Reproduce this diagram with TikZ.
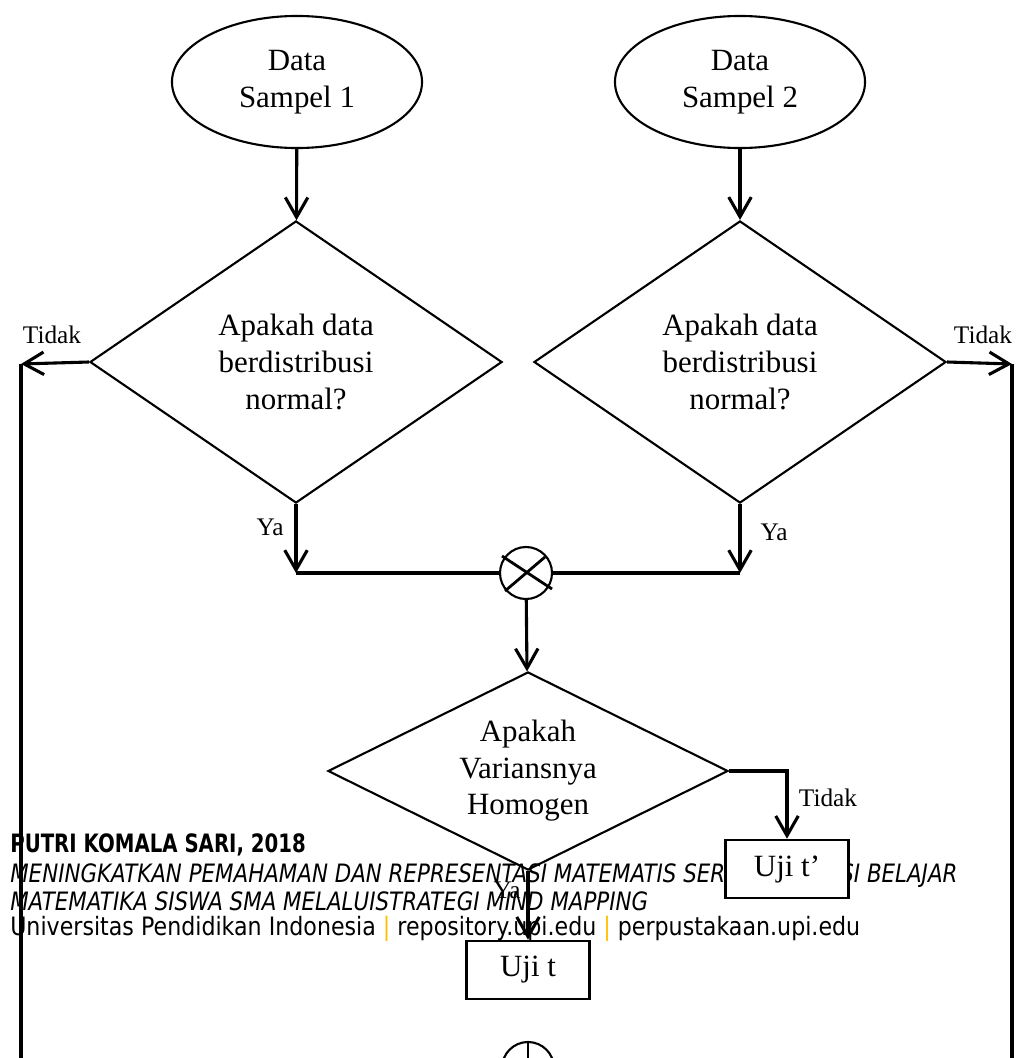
\documentclass[tikz,border=0pt]{standalone}
\usepackage{fontspec}
\setmainfont{Liberation Serif}
\newfontfamily\footfont[FakeStretch=0.875,
  BoldFeatures={FakeStretch=0.78},
  ItalicFeatures={FakeStretch=0.845}]{DejaVu Sans}
\usetikzlibrary{arrows.meta,positioning,shapes.geometric,calc}
\definecolor{upigold}{HTML}{FFC000}

\tikzset{
  shapeline/.style={draw,line width=1.5pt,font=\fontsize{22}{26}\selectfont,align=center},
  terminal/.style={shapeline,ellipse,minimum width=6.25cm,minimum height=3.3cm},
  decision/.style={shapeline,diamond,inner sep=0pt,minimum width=10.3cm,minimum height=7.05cm},
  ujibox/.style={shapeline,rectangle,fill=white,line width=1.8pt,minimum width=3.075cm,minimum height=1.45cm},
  junction/.style={draw,circle,line width=1.5pt,minimum size=1.3cm,inner sep=0pt},
  conn/.style={line width=2.2pt},
  arr/.style={conn,-{Straight Barb[length=14pt,width=16pt]}},
  lbl/.style={font=\fontsize{18}{20}\selectfont,inner sep=0pt},
  foot/.style={font=\footfont\fontsize{18}{21}\selectfont,anchor=base west,inner sep=0pt},
}

\begin{document}
\begin{tikzpicture}[x=0.025cm,y=-0.025cm]
  \useasboundingbox (0,0) rectangle (1018,1058);

  % ---- Footer (lies under the chart) --------------------------
  \node[foot] (footA) at (10,852) {\bfseries PUTRI KOMALA SARI, 2018};
  \node[foot] (footB) at (10,882) {\itshape MENINGKATKAN PEMAHAMAN DAN REPRESENTASI MATEMATIS SERTA MOTIVASI BELAJAR};
  \node[foot] (footC) at (10,910) {\itshape MATEMATIKA SISWA SMA MELALUISTRATEGI MIND MAPPING};
  \node[foot] (footD) at (10,935) {Universitas Pendidikan Indonesia \textcolor{upigold}{|} repository.upi.edu \textcolor{upigold}{|} perpustakaan.upi.edu};

  % ---- Data samples -------------------------------------------
  \node[terminal] (data1) at (297,82) {Data\\Sampel 1};
  \node[terminal] (data2) at (740,82) {Data\\Sampel 2};

  % ---- Normality tests ----------------------------------------
  \node[decision] (norm1) at (296,362) {Apakah data\\berdistribusi\\normal?};
  \node[decision] (norm2) at (740,362) {Apakah data\\berdistribusi\\normal?};
  \draw[arr] (data1) -- (norm1);
  \draw[arr] (data2) -- (norm2);

  % Tidak branches run down both sides
  \coordinate (tidakL) at (21,364);
  \coordinate (tidakR) at (1012,364);
  \coordinate (downL) at (21,1058);
  \coordinate (downR) at (1012,1058);
  \draw[arr] (norm1.west) -- (tidakL);
  \draw[arr] (norm2.east) -- (tidakR);
  \draw[conn] (tidakL) -- (downL);
  \draw[conn] (tidakR) -- (downR);
  \node[lbl] (lblTL) at (52,335) {Tidak};
  \node[lbl] (lblTR) at (983,335) {Tidak};

  % ---- Merge ----------------------------------------------------
  \node[junction] (merge) at (526,573) {};
  \draw[line width=2pt] (merge.center) ++(-24,-17) -- ++(50,33);
  \draw[line width=2pt] (merge.center) ++(-21,18) -- ++(40,-34);
  \coordinate (ya1) at (296,573);
  \coordinate (ya2) at (740,573);
  \draw[arr] (norm1.south) -- (ya1);
  \draw[arr] (norm2.south) -- (ya2);
  \draw[conn] (ya1) -- (merge.west);
  \draw[conn] (ya2) -- (merge.east);
  \node[lbl] (lblY1) at (270,527) {Ya};
  \node[lbl] (lblY2) at (774,532) {Ya};

  % ---- Homogeneity test ----------------------------------------
  \node[decision,shape aspect=2,minimum width=10cm,minimum height=4.95cm]
    (homog) at (528,771) {Apakah\\Variansnya\\Homogen};
  \draw[arr] (merge) -- (homog);

  \node[ujibox] (ujiB) at (787,869) {Uji t’};
  \node[ujibox] (ujiA) at (528,970) {Uji t};
  \draw[arr] (homog.east) -| (ujiB.north);
  \draw[arr] (homog.south) -- (ujiA.north);
  \node[lbl] (lblT3) at (828,798) {Tidak};
  \node[lbl] (lblY3) at (507,890) {Ya};

  % ---- End junction (cut by the page edge) ----------------------
  \node[junction] (stop) at (528,1068) {};
  \draw[line width=2pt] (stop.north) -- (stop.south);
\end{tikzpicture}
\end{document}
